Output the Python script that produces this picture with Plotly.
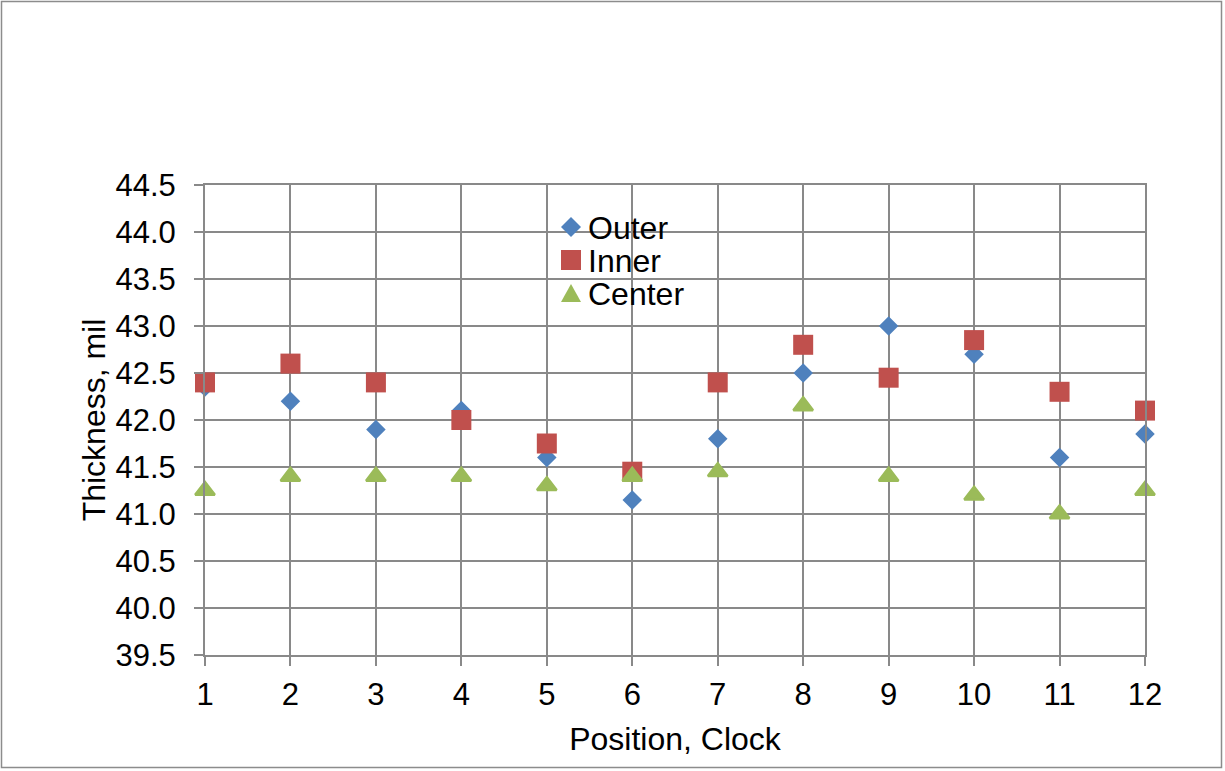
import plotly.graph_objects as go

positions = [1, 2, 3, 4, 5, 6, 7, 8, 9, 10, 11, 12]
outer = [42.35, 42.2, 41.9, 42.1, 41.6, 41.15, 41.8, 42.5, 43.0, 42.7, 41.6, 41.85]
inner = [42.4, 42.6, 42.4, 42.0, 41.75, 41.45, 42.4, 42.8, 42.45, 42.85, 42.3, 42.1]
center = [41.25, 41.4, 41.4, 41.4, 41.3, 41.4, 41.45, 42.15, 41.4, 41.2, 41.0, 41.25]
y_ticks = [39.5, 40.0, 40.5, 41.0, 41.5, 42.0, 42.5, 43.0, 43.5, 44.0, 44.5]
series_names = ["Outer", "Inner", "Center"]
series_colors = ["#4F81BD", "#C0504D", "#9BBB59"]

FONT = "Liberation Sans, Arial, sans-serif"
GRID = "#898989"
L, R, T, B = 205, 80, 185, 116
W, H = 1225, 771
PW, PH = W - L - R, H - T - B


def px_x(p):
    return (p - L) / PW


def px_y(p):
    return (H - B - p) / PH


fig = go.Figure()
fig.add_trace(go.Scatter(x=positions, y=outer, mode="markers", name="Outer", cliponaxis=False,
                         marker=dict(symbol="diamond", size=15, color=series_colors[0])))
fig.add_trace(go.Scatter(x=positions, y=inner, mode="markers", name="Inner", cliponaxis=False,
                         marker=dict(symbol="square", size=20, color=series_colors[1])))
fig.add_trace(go.Scatter(x=positions, y=center, mode="markers", name="Center", cliponaxis=False,
                         marker=dict(symbol="triangle-up", size=17, color=series_colors[2],
                                     line=dict(color=series_colors[2], width=2.5))))

# Legend drawn as shapes + text to match the tight spacing of the original
legend_marker_x = 571
legend_text_x = 586
legend_rows = [227, 260, 293]
marker_paths = [
    "M0,10 L10,0 L0,-10 L-10,0 Z",
    "M-10,-10 L10,-10 L10,10 L-10,10 Z",
    "M-10,-9 L10,-9 L0,9 Z",
]
shapes = [dict(type="rect", xref="paper", yref="paper",
               x0=px_x(1.5), x1=px_x(1221.5), y0=px_y(767.5), y1=px_y(1.5),
               line=dict(color="#8c8c8c", width=1.5), layer="below")]
annotations = []
for name, col, yrow, path in zip(series_names, series_colors, legend_rows, marker_paths):
    shapes.append(dict(type="path", xref="paper", yref="paper",
                       xsizemode="pixel", ysizemode="pixel",
                       xanchor=px_x(legend_marker_x), yanchor=px_y(yrow),
                       path=path, fillcolor=col, line=dict(width=0)))
    annotations.append(dict(text=name, xref="paper", yref="paper",
                            x=px_x(legend_text_x), y=px_y(yrow + 1),
                            xanchor="left", yanchor="middle", showarrow=False,
                            font=dict(size=32, family=FONT, color="black")))

fig.update_layout(
    width=W, height=H,
    margin=dict(l=L, r=R, t=T, b=B),
    paper_bgcolor="white", plot_bgcolor="white",
    font=dict(family=FONT, size=31, color="black"),
    showlegend=False,
    shapes=shapes,
    annotations=annotations,
)
fig.update_xaxes(
    range=[1, 12], tickmode="array", tickvals=positions, ticktext=[str(p) for p in positions],
    showgrid=True, gridcolor=GRID, gridwidth=2,
    showline=True, linecolor=GRID, linewidth=2, mirror=True,
    ticks="outside", ticklen=9, tickcolor=GRID, tickwidth=2,
    ticklabelstandoff=2,
    title=dict(text="Position, Clock", font=dict(size=32, family=FONT), standoff=16),
    zeroline=False,
)
fig.update_yaxes(
    range=[39.5, 44.5], tickmode="array", tickvals=y_ticks, ticktext=[f"{v:.1f}" for v in y_ticks],
    showgrid=True, gridcolor=GRID, gridwidth=2,
    showline=True, linecolor=GRID, linewidth=2, mirror=True,
    ticks="outside", ticklen=9, tickcolor=GRID, tickwidth=2,
    ticklabelstandoff=12,
    title=dict(text="Thickness, mil", font=dict(size=32, family=FONT), standoff=0),
    zeroline=False,
)

fig.write_html("out.html")
